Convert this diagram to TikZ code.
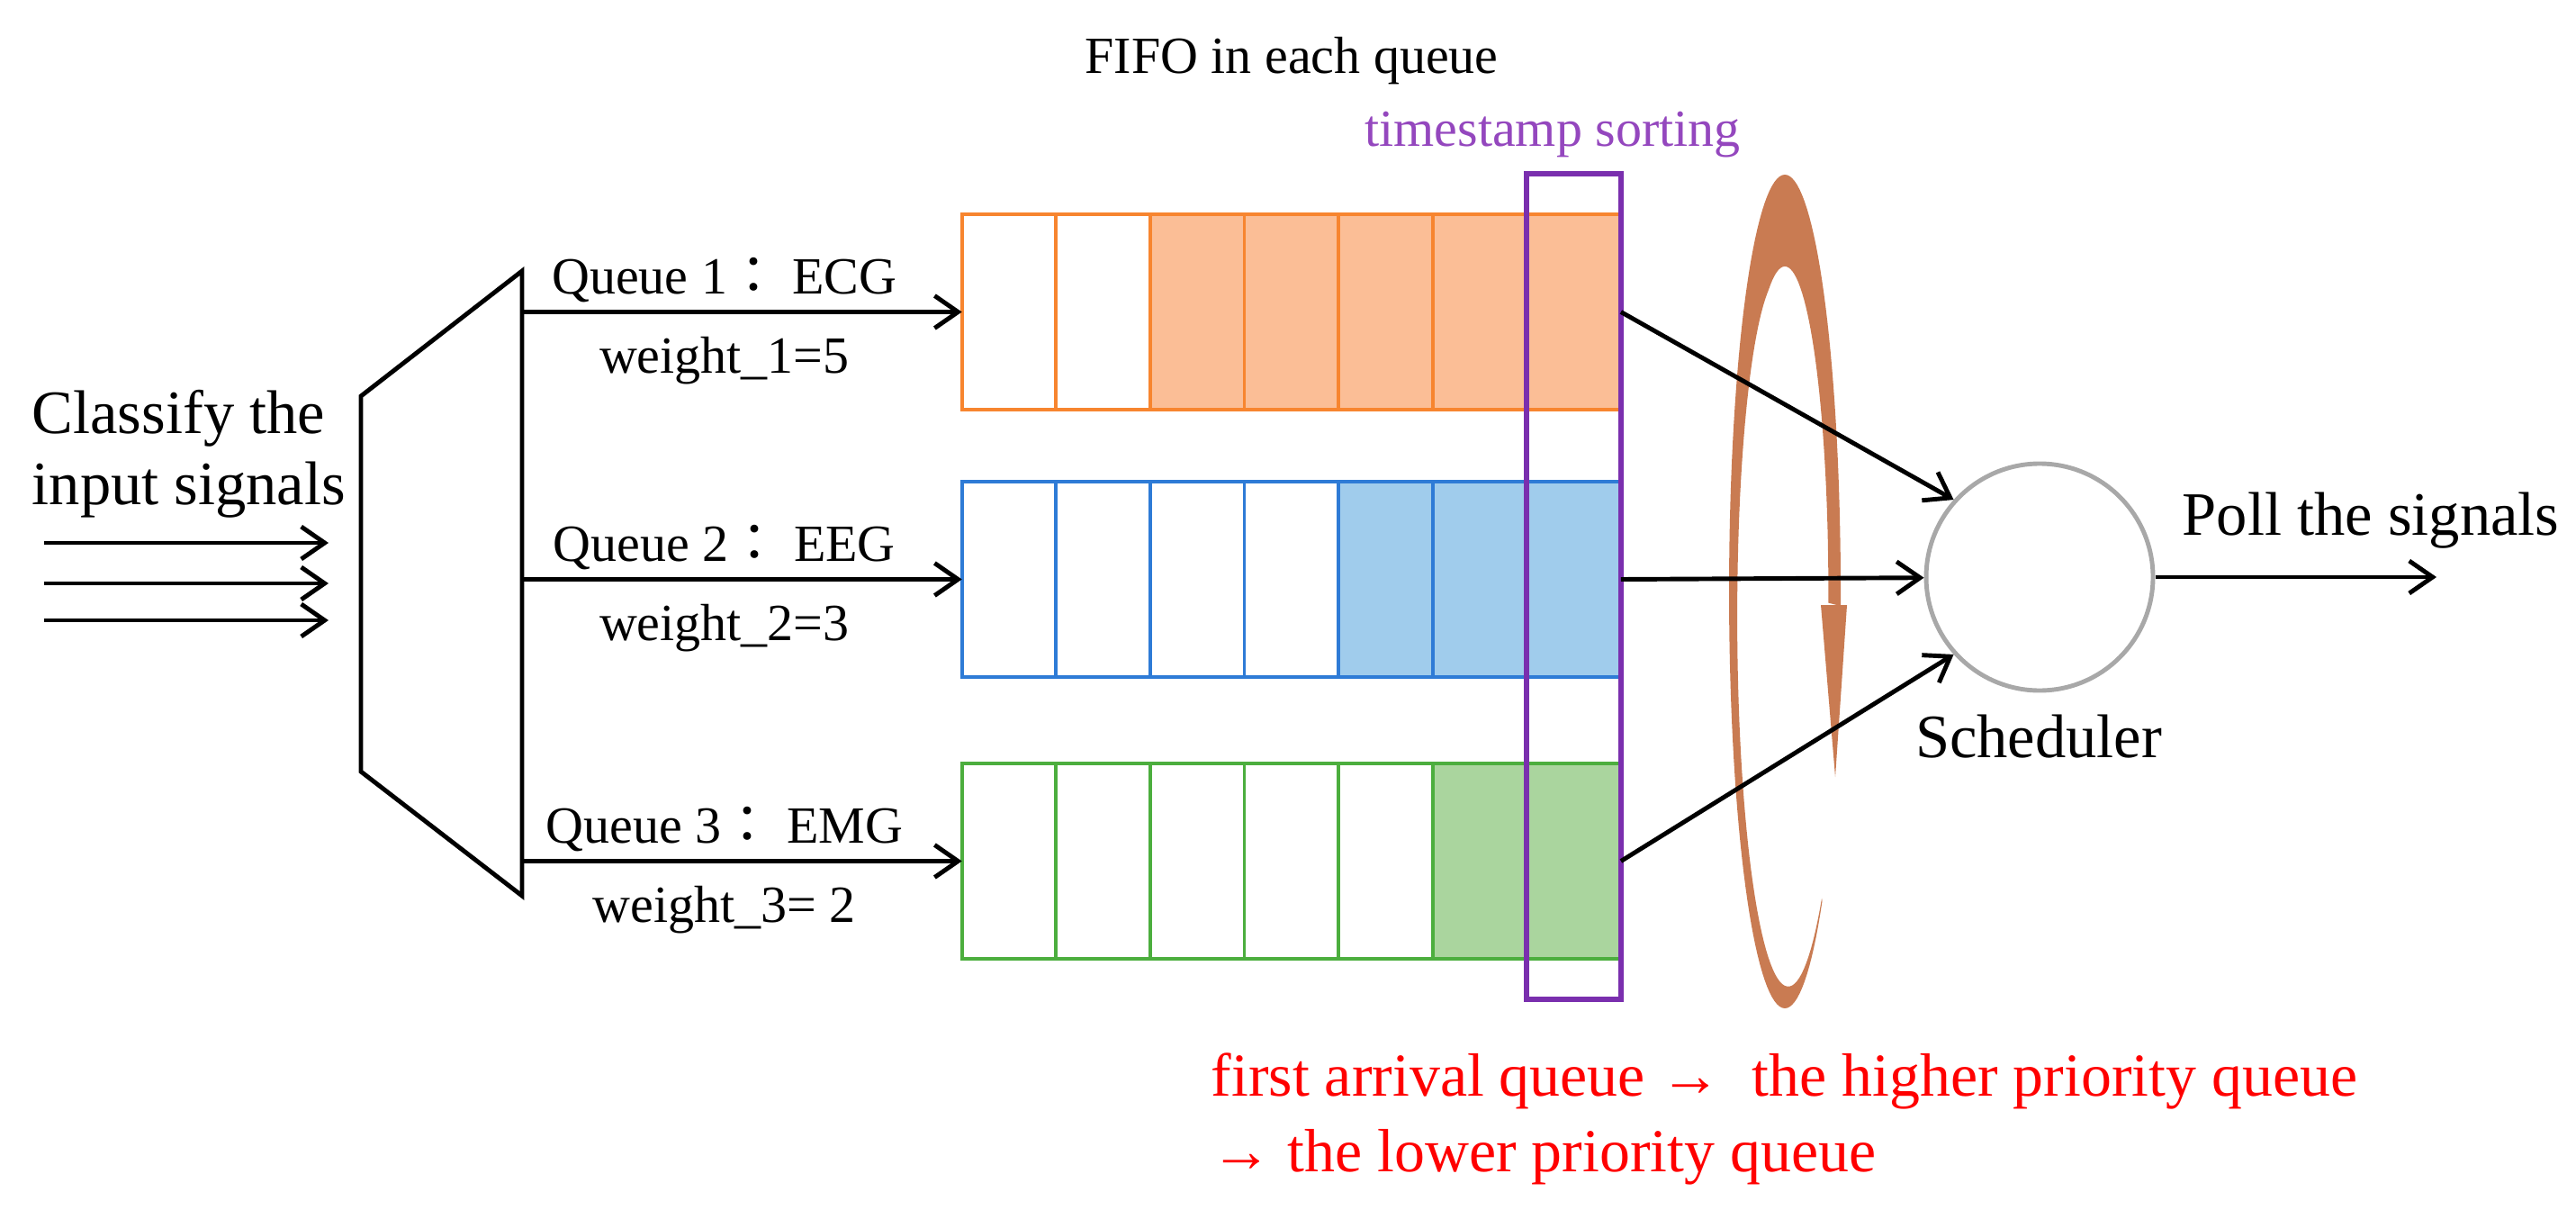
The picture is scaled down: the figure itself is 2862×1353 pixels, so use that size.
\documentclass[tikz,border=0pt]{standalone}
\usepackage{fontspec}
\setmainfont{Liberation Serif}
\newfontfamily\cjk{Noto Sans CJK TC}
\usepackage{tikz}
\usepackage{xcolor}
\usetikzlibrary{backgrounds}
\usetikzlibrary{arrows.meta,positioning,fit,calc}
\definecolor{ECGLine}{HTML}{F7852F}
\definecolor{ECGFill}{HTML}{FBBE96}
\definecolor{EEGLine}{HTML}{2E7BD6}
\definecolor{EEGFill}{HTML}{A0CCEC}
\definecolor{EMGLine}{HTML}{4CAE3E}
\definecolor{EMGFill}{HTML}{AAD59E}
\definecolor{SortingPurple}{HTML}{7A2FAE}
\definecolor{SortingText}{HTML}{9447BE}
\definecolor{SchedulerGrey}{HTML}{A8A8A8}
\definecolor{RoundRobin}{HTML}{C97B52}
\tikzstyle{QueueCell} =[draw,rectangle,minimum width=10.46mm,minimum height=21.7mm,inner sep=0pt,outer sep=0pt,line width=1.1pt]
\tikzstyle{Flow} =[-{Straight Barb[length=2.6mm,width=3.6mm]},line width=1.4pt]
\tikzstyle{SmallText} =[font=\fontsize{16.5}{19}\selectfont,inner sep=0pt]
\tikzstyle{LargeText} =[font=\fontsize{19.5}{22.5}\selectfont,inner sep=0pt]
\tikzstyle{SchedulerNode} =[draw=SchedulerGrey,circle,minimum size=25.2mm,line width=1.4pt]
\tikzstyle{SortingBox} =[draw=SortingPurple,line width=1.8pt,inner xsep=0pt,inner ysep=4.5mm]
\newcommand{\CreateQueue}[3]{
    \node[QueueCell,draw=#3] at #2 (#1-Cell-1){};
    \node[QueueCell,draw=#3,right= of #1-Cell-1](#1-Cell-2){};
    \node[QueueCell,draw=#3,right= of #1-Cell-2](#1-Cell-3){};
    \node[QueueCell,draw=#3,right= of #1-Cell-3](#1-Cell-4){};
    \node[QueueCell,draw=#3,right= of #1-Cell-4](#1-Cell-5){};
    \node[QueueCell,draw=#3,right= of #1-Cell-5](#1-Cell-6){};
    \node[QueueCell,draw=#3,right= of #1-Cell-6](#1-Cell-7){};}
\newcommand{\FillQueue}[3]{
    \begin{scope}[on background layer]
        \fill[#3] (#1-Cell-#2.north west) rectangle (#1-Cell-7.south east);
    \end{scope}}

\begin{document}
\begin{tikzpicture}[x=0.1mm,y=-0.1mm,node distance=10.46mm,on grid,
    declare function={LoopWidth(\p)=0.01+0.21*min(1,\p/200);}]
    \useasboundingbox (0,0) rectangle (2862,1353);

    \CreateQueue{ECG}{(1121,346.5)}{ECGLine}
    \CreateQueue{EEG}{(1121,643.5)}{EEGLine}
    \CreateQueue{EMG}{(1121,956.5)}{EMGLine}
    \FillQueue{ECG}{3}{ECGFill}
    \FillQueue{EEG}{5}{EEGFill}
    \FillQueue{EMG}{6}{EMGFill}

    \node[SortingBox,fit=(ECG-Cell-7)(EMG-Cell-7)](Timestamp-Sorting){};
    \node[SmallText,text=SortingText,anchor=base](Timestamp-Label) at (1725,163){timestamp sorting};
    \node[SmallText,anchor=base](FIFO-Label) at (1435,82){FIFO in each queue};

    % classifier
    \draw[line width=1.4pt] (401,440) -- (580,301) -- (580,995) -- (401,857) -- cycle;
    \coordinate (Classifier-Right) at (580,648);
    \node[LargeText,align=left,anchor=west](Classify-Label) at (35,504){Classify the\\input signals};
    \coordinate (Input-1) at (49,603);
    \coordinate (Input-2) at (49,648);
    \coordinate (Input-3) at (49,689);
    \draw[Flow] (Input-1) -- ++(316,0);
    \draw[Flow] (Input-2) -- ++(316,0);
    \draw[Flow] (Input-3) -- ++(316,0);

    \draw[Flow] (Classifier-Right |- ECG-Cell-1.west) -- node[SmallText,pos=0.46,anchor=base,yshift=2mm]{Queue 1{\cjk ：} ECG} node[SmallText,pos=0.46,anchor=base,yshift=-6.8mm]{weight\_1=5} (ECG-Cell-1.west);
    \draw[Flow] (Classifier-Right |- EEG-Cell-1.west) -- node[SmallText,pos=0.46,anchor=base,yshift=2mm]{Queue 2{\cjk ：} EEG} node[SmallText,pos=0.46,anchor=base,yshift=-6.8mm]{weight\_2=3} (EEG-Cell-1.west);
    \draw[Flow] (Classifier-Right |- EMG-Cell-1.west) -- node[SmallText,pos=0.46,anchor=base,yshift=2mm]{Queue 3{\cjk ：} EMG} node[SmallText,pos=0.46,anchor=base,yshift=-6.8mm]{weight\_3= 2} (EMG-Cell-1.west);

    % round robin loop
    \fill[RoundRobin] plot[domain=0:314,samples=120] ({1983+62*cos(312-\x)},{657-463*sin(312-\x)})
        -- plot[domain=314:0,samples=120] ({1983+62*(1-LoopWidth(\x))*cos(312-\x)},{657-463*(1-LoopWidth(\x))*sin(312-\x)}) -- cycle;
    \fill[RoundRobin] (2023,672) -- (2052,672) -- (2039,863) -- cycle;

    \node[SchedulerNode](Scheduler) at (2266,641){};
    \node[LargeText,anchor=base](Scheduler-Label) at (2265,841){Scheduler};
    \coordinate (Output) at (2707,641);
    \draw[Flow] (Scheduler) -- (Output);
    \node[LargeText,anchor=base west](Poll-Label) at (2424,594){Poll the signals};

    \draw[Flow] (ECG-Cell-7.east) -- (Scheduler.138);
    \draw[Flow] (EEG-Cell-7.east) -- (Scheduler);
    \draw[Flow] (EMG-Cell-7.east) -- (Scheduler.222);

    \node[LargeText,text=red,align=left,anchor=north west,font=\fontsize{19.3}{23.9}\selectfont](Priority-Note) at (1345,1169){first arrival queue → ~the higher priority queue\\→ the lower priority queue};
\end{tikzpicture}
\end{document}
